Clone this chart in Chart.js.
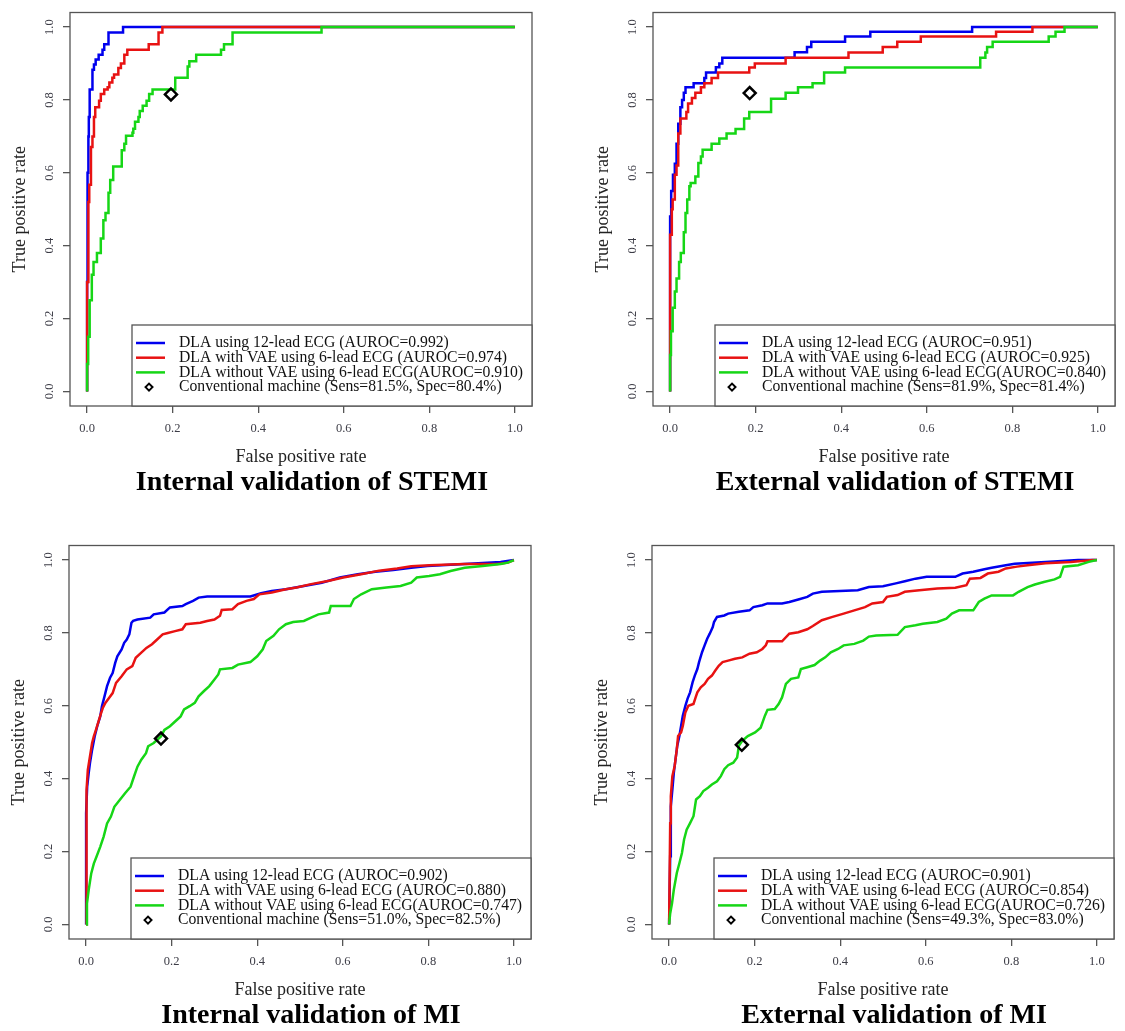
<!DOCTYPE html>
<html>
<head>
<meta charset="utf-8">
<title>ROC curves - STEMI and MI</title>
<script src="https://cdn.jsdelivr.net/npm/chart.js@4.4.0/dist/chart.umd.min.js"></script>
<style>
  body { margin: 0; background: #fff; }
  #wrap { position: relative; width: 1125px; height: 1031px; overflow: hidden; }
  canvas { position: absolute; }
</style>
</head>
<body>
<div id="wrap">
  <canvas id="c0" width="545" height="498" style="left:0px;top:0px"></canvas>
  <canvas id="c1" width="545" height="498" style="left:583px;top:0px"></canvas>
  <canvas id="c2" width="545" height="498" style="left:-1px;top:533px"></canvas>
  <canvas id="c3" width="545" height="498" style="left:582px;top:533px"></canvas>
</div>
<script>
"use strict";

var tickValues = [0, 0.2, 0.4, 0.6, 0.8, 1.0];
var panelTitles = ["Internal validation of STEMI", "External validation of STEMI", "Internal validation of MI", "External validation of MI"];
var aurocBlue = [0.992, 0.951, 0.902, 0.901];
var aurocRed = [0.974, 0.925, 0.880, 0.854];
var aurocGreen = [0.910, 0.840, 0.747, 0.726];
var machineSens = [81.5, 81.9, 51.0, 49.3];
var machineSpec = [80.4, 81.4, 82.5, 83.0];

// roc points [fpr, tpr]
var stemiIntBlue = [[0,0],[0.001,0.30],[0.003,0.60],[0.004,0.70],[0.006,0.753],[0.0125,0.829],[0.016,0.883],[0.020,0.897],[0.027,0.911],[0.036,0.924],[0.040,0.938],[0.050,0.953],[0.084,0.985],[1.0,1.0]];
var stemiIntRed = [[0,0],[0.003,0.30],[0.005,0.52],[0.009,0.567],[0.0125,0.671],[0.016,0.70],[0.019,0.753],[0.028,0.78],[0.032,0.798],[0.040,0.816],[0.048,0.829],[0.052,0.835],[0.059,0.848],[0.063,0.861],[0.073,0.870],[0.079,0.888],[0.087,0.900],[0.094,0.924],[0.144,0.938],[0.167,0.953],[0.176,0.985],[1.0,1.0]];
var stemiIntGreen = [[0,0],[0.0025,0.075],[0.006,0.15],[0.011,0.25],[0.015,0.32],[0.023,0.355],[0.032,0.38],[0.038,0.42],[0.043,0.47],[0.050,0.49],[0.054,0.545],[0.061,0.58],[0.081,0.617],[0.087,0.662],[0.091,0.68],[0.106,0.702],[0.108,0.71],[0.112,0.721],[0.120,0.74],[0.123,0.753],[0.130,0.77],[0.139,0.784],[0.145,0.798],[0.153,0.816],[0.206,0.829],[0.235,0.861],[0.239,0.892],[0.255,0.906],[0.313,0.924],[0.320,0.938],[0.340,0.953],[0.548,0.985],[1.0,1.0]];

var stemiExtBlue = [[0,0],[0.0025,0.48],[0.0067,0.55],[0.011,0.595],[0.015,0.625],[0.019,0.68],[0.024,0.735],[0.028,0.78],[0.032,0.80],[0.036,0.82],[0.055,0.835],[0.080,0.846],[0.084,0.86],[0.107,0.875],[0.115,0.89],[0.122,0.90],[0.291,0.916],[0.320,0.931],[0.330,0.945],[0.409,0.96],[0.468,0.974],[0.706,0.987],[0.847,1.0],[1.0,1.0]];
var stemiExtRed = [[0,0],[0.004,0.43],[0.006,0.50],[0.011,0.527],[0.015,0.595],[0.019,0.62],[0.024,0.708],[0.038,0.749],[0.042,0.767],[0.051,0.79],[0.059,0.805],[0.072,0.82],[0.080,0.835],[0.097,0.846],[0.112,0.86],[0.185,0.875],[0.198,0.889],[0.270,0.90],[0.417,0.916],[0.497,0.93],[0.531,0.945],[0.586,0.96],[0.762,0.974],[0.847,0.987],[0.922,1.0],[1.0,1.0]];
var stemiExtGreen = [[0,0],[0.002,0.10],[0.006,0.165],[0.011,0.23],[0.015,0.274],[0.021,0.31],[0.025,0.355],[0.032,0.38],[0.036,0.437],[0.040,0.49],[0.045,0.527],[0.048,0.563],[0.059,0.572],[0.066,0.59],[0.072,0.627],[0.076,0.645],[0.097,0.663],[0.115,0.68],[0.132,0.694],[0.153,0.708],[0.173,0.72],[0.185,0.749],[0.236,0.767],[0.270,0.803],[0.299,0.82],[0.333,0.835],[0.360,0.846],[0.409,0.875],[0.725,0.889],[0.737,0.916],[0.741,0.93],[0.754,0.945],[0.885,0.96],[0.901,0.974],[0.922,0.987],[1.0,1.0]];

var miIntBlue = [[0,0],[0,0.305],[0.0025,0.378],[0.006,0.415],[0.009,0.443],[0.014,0.479],[0.020,0.516],[0.026,0.544],[0.033,0.571],[0.037,0.599],[0.043,0.626],[0.049,0.654],[0.056,0.677],[0.062,0.69],[0.068,0.718],[0.073,0.736],[0.083,0.755],[0.089,0.773],[0.095,0.782],[0.101,0.796],[0.106,0.828],[0.11,0.833],[0.12,0.837],[0.15,0.842],[0.158,0.851],[0.183,0.856],[0.196,0.87],[0.225,0.874],[0.233,0.879],[0.25,0.888],[0.263,0.897],[0.283,0.9],[0.384,0.9],[0.409,0.909],[0.434,0.915],[0.467,0.92],[0.509,0.929],[0.551,0.938],[0.593,0.952],[0.635,0.961],[0.676,0.968],[0.718,0.973],[0.76,0.979],[0.798,0.984],[0.885,0.989],[0.969,0.995],[1,1]];
var miIntRed = [[0,0],[0,0.034],[0.002,0.369],[0.004,0.424],[0.009,0.461],[0.014,0.498],[0.018,0.516],[0.023,0.534],[0.028,0.553],[0.035,0.58],[0.039,0.594],[0.045,0.608],[0.054,0.622],[0.062,0.635],[0.07,0.663],[0.083,0.681],[0.095,0.70],[0.108,0.709],[0.116,0.732],[0.129,0.746],[0.141,0.759],[0.154,0.769],[0.166,0.782],[0.179,0.796],[0.191,0.80],[0.208,0.805],[0.225,0.81],[0.233,0.824],[0.267,0.828],[0.283,0.833],[0.30,0.837],[0.313,0.847],[0.317,0.863],[0.342,0.865],[0.355,0.879],[0.375,0.888],[0.392,0.893],[0.405,0.906],[0.434,0.911],[0.467,0.92],[0.492,0.925],[0.526,0.934],[0.568,0.943],[0.601,0.952],[0.643,0.961],[0.685,0.971],[0.727,0.977],[0.76,0.983],[0.802,0.986],[0.885,0.989],[0.961,0.989],[0.986,0.993],[1,1]];
var miIntGreen = [[0,0],[0.002,0.057],[0.006,0.094],[0.012,0.14],[0.018,0.167],[0.024,0.185],[0.033,0.213],[0.041,0.241],[0.049,0.277],[0.058,0.296],[0.066,0.323],[0.079,0.342],[0.091,0.36],[0.104,0.378],[0.112,0.406],[0.12,0.433],[0.129,0.452],[0.14,0.47],[0.145,0.489],[0.158,0.498],[0.175,0.516],[0.183,0.534],[0.196,0.544],[0.208,0.557],[0.221,0.571],[0.229,0.59],[0.242,0.599],[0.254,0.608],[0.263,0.626],[0.275,0.64],[0.288,0.654],[0.30,0.672],[0.309,0.686],[0.313,0.70],[0.342,0.704],[0.355,0.713],[0.384,0.72],[0.40,0.736],[0.413,0.755],[0.421,0.778],[0.438,0.792],[0.451,0.81],[0.467,0.824],[0.484,0.83],[0.509,0.833],[0.526,0.842],[0.543,0.851],[0.568,0.856],[0.572,0.874],[0.618,0.874],[0.626,0.893],[0.643,0.906],[0.668,0.92],[0.702,0.925],[0.735,0.929],[0.76,0.938],[0.773,0.952],[0.802,0.956],[0.827,0.961],[0.852,0.97],[0.885,0.979],[0.927,0.984],[0.969,0.989],[0.986,0.993],[1,1]];

var miExtBlue = [[0,0],[0.0025,0.187],[0.004,0.324],[0.0076,0.37],[0.011,0.416],[0.015,0.453],[0.019,0.49],[0.024,0.517],[0.028,0.545],[0.032,0.573],[0.038,0.60],[0.043,0.619],[0.049,0.637],[0.055,0.665],[0.06,0.683],[0.066,0.701],[0.07,0.72],[0.077,0.747],[0.083,0.766],[0.089,0.784],[0.095,0.798],[0.102,0.816],[0.105,0.83],[0.112,0.844],[0.129,0.848],[0.138,0.853],[0.163,0.858],[0.188,0.862],[0.197,0.871],[0.218,0.876],[0.23,0.881],[0.264,0.881],[0.281,0.885],[0.302,0.892],[0.323,0.899],[0.336,0.908],[0.357,0.913],[0.399,0.915],[0.441,0.917],[0.467,0.926],[0.50,0.928],[0.53,0.936],[0.551,0.942],[0.576,0.949],[0.602,0.954],[0.669,0.954],[0.686,0.963],[0.711,0.968],[0.737,0.975],[0.754,0.979],[0.787,0.986],[0.808,0.99],[0.88,0.995],[0.956,1.0],[1,1]];
var miExtRed = [[0,0],[0.0025,0.278],[0.004,0.352],[0.0076,0.407],[0.013,0.435],[0.018,0.481],[0.021,0.517],[0.028,0.527],[0.032,0.545],[0.038,0.582],[0.045,0.60],[0.057,0.605],[0.062,0.623],[0.066,0.637],[0.074,0.651],[0.083,0.66],[0.091,0.674],[0.10,0.683],[0.108,0.697],[0.116,0.71],[0.125,0.72],[0.138,0.724],[0.154,0.729],[0.171,0.733],[0.188,0.743],[0.205,0.747],[0.218,0.756],[0.226,0.766],[0.23,0.777],[0.264,0.777],[0.281,0.798],[0.302,0.802],[0.323,0.81],[0.336,0.819],[0.357,0.835],[0.382,0.844],[0.408,0.853],[0.433,0.862],[0.458,0.871],[0.475,0.881],[0.50,0.885],[0.509,0.899],[0.534,0.904],[0.551,0.913],[0.585,0.917],[0.627,0.922],[0.669,0.924],[0.695,0.931],[0.703,0.949],[0.728,0.951],[0.745,0.963],[0.77,0.968],[0.787,0.977],[0.813,0.982],[0.838,0.986],[0.88,0.991],[0.939,0.995],[0.99,1.0],[1,1]];
var miExtGreen = [[0,0],[0.0025,0.03],[0.0068,0.058],[0.011,0.095],[0.018,0.141],[0.024,0.168],[0.03,0.196],[0.035,0.233],[0.041,0.26],[0.049,0.278],[0.057,0.297],[0.063,0.343],[0.072,0.352],[0.08,0.366],[0.091,0.375],[0.10,0.384],[0.112,0.393],[0.121,0.407],[0.129,0.426],[0.138,0.437],[0.15,0.444],[0.159,0.458],[0.163,0.49],[0.171,0.504],[0.184,0.517],[0.201,0.527],[0.214,0.54],[0.224,0.573],[0.23,0.589],[0.247,0.591],[0.256,0.605],[0.264,0.623],[0.273,0.66],[0.285,0.674],[0.302,0.678],[0.308,0.701],[0.323,0.706],[0.34,0.712],[0.353,0.724],[0.365,0.733],[0.378,0.747],[0.395,0.756],[0.408,0.766],[0.433,0.77],[0.454,0.779],[0.467,0.79],[0.484,0.793],[0.534,0.795],[0.551,0.816],[0.576,0.821],[0.593,0.825],[0.627,0.83],[0.648,0.839],[0.661,0.853],[0.678,0.862],[0.711,0.862],[0.724,0.885],[0.737,0.894],[0.754,0.903],[0.804,0.903],[0.817,0.913],[0.838,0.926],[0.855,0.933],[0.876,0.94],[0.901,0.947],[0.914,0.954],[0.922,0.982],[0.956,0.986],[0.981,0.995],[1,1]];

var curveColors = ["#0000ee", "#e81212", "#16d616"];
var serif = '"Liberation Serif", "Times New Roman", serif';

var panels = [
    { id: "c0", blue: stemiIntBlue, red: stemiIntRed, green: stemiIntGreen, stepped: "after" },
    { id: "c1", blue: stemiExtBlue, red: stemiExtRed, green: stemiExtGreen, stepped: "after" },
    { id: "c2", blue: miIntBlue, red: miIntRed, green: miIntGreen, stepped: false },
    { id: "c3", blue: miExtBlue, red: miExtRed, green: miExtGreen, stepped: false }
];

function drawDiamond(ctx, x, y, r) {
    ctx.beginPath();
    ctx.moveTo(x - r, y);
    ctx.lineTo(x, y - r);
    ctx.lineTo(x + r, y);
    ctx.lineTo(x, y + r);
    ctx.closePath();
    ctx.stroke();
}

// R style box, bottomright legend and the panel caption
var framePlugin = {
    id: "frame",
    afterDraw: function(chart, args, opts) {
        var ctx = chart.ctx;
        var area = chart.chartArea;
        ctx.save();
        ctx.strokeStyle = "#555";
        ctx.lineWidth = 1.3;
        ctx.strokeRect(area.left, area.top, area.right - area.left, area.bottom - area.top);

        var lx = area.left + 62;
        var ly = area.bottom - 81;
        ctx.fillStyle = "#fff";
        ctx.fillRect(lx, ly, area.right - lx, area.bottom - ly);
        ctx.strokeRect(lx, ly, area.right - lx, area.bottom - ly);

        ctx.font = "15.7px " + serif;
        ctx.textBaseline = "middle";
        ctx.textAlign = "left";
        opts.labels.forEach(function(text, k) {
            var y = ly + 18 + k * 14.7;
            if (k < 3) {
                ctx.strokeStyle = curveColors[k];
                ctx.lineWidth = 2.5;
                ctx.beginPath();
                ctx.moveTo(lx + 4, y);
                ctx.lineTo(lx + 33, y);
                ctx.stroke();
            } else {
                ctx.strokeStyle = "#000";
                ctx.lineWidth = 2;
                drawDiamond(ctx, lx + 17, y, 3.5);
            }
            ctx.fillStyle = "#111";
            ctx.fillText(text, lx + 47, y);
        });

        ctx.font = "bold 28px " + serif;
        ctx.textAlign = "center";
        ctx.fillStyle = "#000";
        ctx.fillText(opts.title, (area.left + area.right) / 2 + 11, area.bottom + 77);
        ctx.restore();
    }
};

function curve(points, color, order, stepped) {
    return {
        data: points.map(function(pt) { return { x: pt[0], y: pt[1] }; }),
        showLine: true,
        borderColor: color,
        borderWidth: 2.5,
        pointRadius: 0,
        tension: 0,
        stepped: stepped,
        order: order
    };
}

function axis(title, isY) {
    var opts = {
        type: "linear",
        min: -0.04,
        max: 1.04,
        afterBuildTicks: function(scale) {
            scale.ticks = tickValues.map(function(v) { return { value: v }; });
        },
        ticks: {
            callback: function(v) { return v.toFixed(1); },
            font: { family: serif, size: 12.5 },
            color: "#3c3c46",
            padding: 8.5
        },
        grid: { drawOnChartArea: false, drawTicks: true, tickLength: 7, color: "#555", lineWidth: 1.3 },
        border: { display: false },
        title: {
            display: true,
            text: title,
            font: { family: serif, size: 18 },
            color: "#222",
            padding: { top: 0, bottom: 0 }
        }
    };
    if (isY) {
        opts.ticks.minRotation = 90;
        opts.ticks.maxRotation = 90;
        opts.ticks.crossAlign = "center";
        opts.ticks.padding = 5;
        opts.title.padding = { top: 9, bottom: 0 };
        opts.afterFit = function(scale) { scale.width = 70; };
    } else {
        opts.afterFit = function(scale) { scale.height = 62; };
    }
    return opts;
}

function makePanel(p, i) {
    var labels = [
        "DLA using 12-lead ECG (AUROC=" + aurocBlue[i].toFixed(3) + ")",
        "DLA with VAE using 6-lead ECG (AUROC=" + aurocRed[i].toFixed(3) + ")",
        "DLA without VAE using 6-lead ECG(AUROC=" + aurocGreen[i].toFixed(3) + ")",
        "Conventional machine (Sens=" + machineSens[i].toFixed(1) + "%, Spec=" + machineSpec[i].toFixed(1) + "%)"
    ];
    new Chart(document.getElementById(p.id), {
        type: "scatter",
        data: {
            datasets: [
                {
                    data: [{ x: 1 - machineSpec[i] / 100, y: machineSens[i] / 100 }],
                    pointStyle: "rectRot",
                    pointRadius: 6,
                    pointBorderWidth: 2.5,
                    pointBorderColor: "#000",
                    pointBackgroundColor: "rgba(0,0,0,0)",
                    order: 0
                },
                curve(p.green, curveColors[2], 1, p.stepped),
                curve(p.red, curveColors[1], 2, p.stepped),
                curve(p.blue, curveColors[0], 3, p.stepped)
            ]
        },
        options: {
            responsive: false,
            animation: false,
            devicePixelRatio: 1,
            events: [],
            layout: { padding: { left: 0, right: 13, top: 7, bottom: 30 } },
            scales: {
                x: axis("False positive rate", false),
                y: axis("True positive rate", true)
            },
            plugins: {
                legend: { display: false },
                tooltip: { enabled: false },
                frame: { labels: labels, title: panelTitles[i] }
            }
        },
        plugins: [framePlugin]
    });
}

panels.forEach(makePanel);
</script>
</body>
</html>
